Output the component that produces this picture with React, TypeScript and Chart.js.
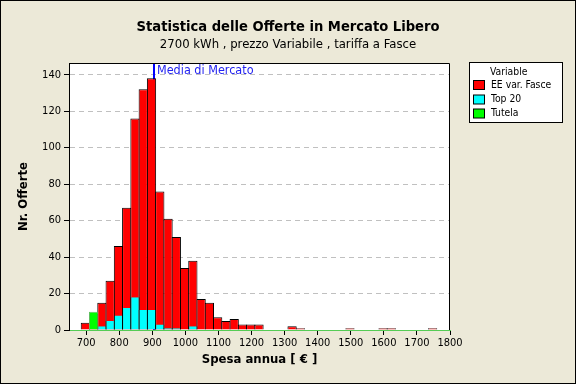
import React, { useEffect, useRef } from 'react';
import { Chart, registerables } from 'chart.js';

Chart.register(...registerables);

const FONT = "'DejaVu Sans Condensed', 'DejaVu Sans', sans-serif";

const titleText = 'Statistica delle Offerte in Mercato Libero';
const subtitleText = '2700 kWh , prezzo Variabile , tariffa a Fasce';
const xAxisTitle = 'Spesa annua [ € ]';
const yAxisTitle = 'Nr. Offerte';
const legendTitle = 'Variable';
const seriesNames = ['EE var. Fasce', 'Top 20', 'Tutela'];
const seriesColors = ['#FF0000', '#00FFFF', '#00FF00'];
const seriesBorders = ['#000000', '#000000', '#5FBF5F'];

const binCenters = [
  697.5, 722.5, 747.5, 772.5, 797.5, 822.5, 847.5, 872.5, 897.5, 922.5,
  947.5, 972.5, 997.5, 1022.5, 1047.5, 1072.5, 1097.5, 1122.5, 1147.5, 1172.5,
  1197.5, 1222.5, 1247.5, 1272.5, 1297.5, 1322.5, 1347.5, 1372.5, 1397.5, 1422.5,
  1447.5, 1472.5, 1497.5, 1522.5, 1547.5, 1572.5, 1597.5, 1622.5, 1647.5, 1672.5,
  1697.5, 1722.5, 1747.5,
];
const eeCounts = [
  4, 9, 15, 27, 46, 67, 116, 132, 138, 76,
  61, 51, 34, 38, 17, 15, 7, 5, 6, 3,
  3, 3, 0, 0, 0, 2, 1, 0, 0, 0,
  0, 0, 1, 0, 0, 0, 1, 1, 0, 0,
  0, 0, 1,
];
const top20Counts = [
  0, 0, 2, 5, 8, 12, 18, 11, 11, 3,
  1, 1, 0, 2, 0, 0, 0, 0, 0, 0,
  0, 0, 0, 0, 0, 0, 0, 0, 0, 0,
  0, 0, 0, 0, 0, 0, 0, 0, 0, 0,
  0, 0, 0,
];
const tutelaCounts = [
  0, 10, 0, 0, 0, 0, 0, 0, 0, 0,
  0, 0, 0, 0, 0, 0, 0, 0, 0, 0,
  0, 0, 0, 0, 0, 0, 0, 0, 0, 0,
  0, 0, 0, 0, 0, 0, 0, 0, 0, 0,
  0, 0, 0,
];
const xTickValues = [700, 800, 900, 1000, 1100, 1200, 1300, 1400, 1500, 1600, 1700, 1800];
const yTickValues = [0, 20, 40, 60, 80, 100, 120, 140];
const marketMean = 905;
const marketMeanLabel = 'Media di Mercato';

const decorPlugin = {
  id: 'decor',
  beforeDraw(chart: any) {
    const { ctx, width, height, chartArea: a } = chart;
    ctx.save();
    ctx.fillStyle = '#ECE9D8';
    ctx.fillRect(0, 0, width, height);
    ctx.strokeStyle = '#000';
    ctx.lineWidth = 1;
    ctx.strokeRect(0.5, 0.5, width - 1, height - 1);
    ctx.fillStyle = '#FFFFFF';
    ctx.fillRect(a.left, a.top, a.right - a.left, a.bottom - a.top);
    ctx.fillStyle = '#000';
    ctx.textAlign = 'center';
    ctx.textBaseline = 'middle';
    ctx.font = `bold 14.6px ${FONT}`;
    ctx.fillText(titleText, width / 2, 27.5);
    ctx.font = `13px ${FONT}`;
    ctx.fillText(subtitleText, width / 2, 44.5);
    ctx.restore();
  },
  beforeDatasetsDraw(chart: any) {
    const { ctx, chartArea: a } = chart;
    const x = chart.scales.x.getPixelForValue(marketMean);
    ctx.save();
    ctx.strokeStyle = '#0000FF';
    ctx.lineWidth = 2;
    ctx.beginPath();
    ctx.moveTo(x, a.top);
    ctx.lineTo(x, a.bottom);
    ctx.stroke();
    ctx.restore();
  },
  afterDatasetsDraw(chart: any) {
    const { ctx, chartArea: a } = chart;
    const x = chart.scales.x.getPixelForValue(marketMean);
    ctx.save();
    ctx.fillStyle = '#2323F0';
    ctx.font = `12.5px ${FONT}`;
    ctx.textAlign = 'left';
    ctx.textBaseline = 'middle';
    ctx.fillText(marketMeanLabel, x + 3, a.top + 8);
    ctx.restore();
  },
  afterDraw(chart: any) {
    const { ctx, chartArea: a } = chart;
    ctx.save();
    ctx.strokeStyle = '#000';
    ctx.lineWidth = 1;
    ctx.beginPath();
    ctx.moveTo(a.left, a.top + 0.5);
    ctx.lineTo(a.right - 0.5, a.top + 0.5);
    ctx.lineTo(a.right - 0.5, a.bottom);
    ctx.stroke();

    // legend
    const lx = 469.5, ly = 62.5, lw = 93, lh = 60;
    ctx.fillStyle = '#FFFFFF';
    ctx.fillRect(lx, ly, lw, lh);
    ctx.strokeRect(lx, ly, lw, lh);
    ctx.fillStyle = '#000';
    ctx.font = `10.3px ${FONT}`;
    ctx.textAlign = 'left';
    ctx.textBaseline = 'middle';
    ctx.fillText(legendTitle, 490, 72);
    const rows = [85, 99.5, 113.5];
    seriesNames.forEach((name, i) => {
      ctx.fillStyle = seriesColors[i];
      ctx.fillRect(473.5, rows[i] - 4.5, 11, 9);
      ctx.strokeStyle = '#000';
      ctx.strokeRect(473.5, rows[i] - 4.5, 11, 9);
      ctx.fillStyle = '#000';
      ctx.fillText(name, 491, rows[i]);
    });
    ctx.restore();
  },
};

export default function App() {
  const canvasRef = useRef<HTMLCanvasElement | null>(null);

  useEffect(() => {
    if (!canvasRef.current) return;
    const makeData = (vals: number[]) =>
      binCenters.map((x, i) => ({ x, y: vals[i] === 0 ? null : vals[i] }));
    const chart = new Chart(canvasRef.current, {
      type: 'bar',
      data: {
        datasets: [
          {
            label: seriesNames[0],
            data: makeData(eeCounts),
            backgroundColor: seriesColors[0],
            borderColor: seriesBorders[0],
            borderWidth: 1,
            order: 3,
          },
          {
            label: seriesNames[1],
            data: makeData(top20Counts),
            backgroundColor: seriesColors[1],
            borderColor: seriesBorders[1],
            borderWidth: { left: 1, right: 1, top: 0, bottom: 0 },
            order: 2,
          },
          {
            label: seriesNames[2],
            data: makeData(tutelaCounts),
            backgroundColor: seriesColors[2],
            borderColor: seriesBorders[2],
            borderWidth: 1,
            order: 1,
          },
        ] as any,
      },
      options: {
        responsive: false,
        animation: false,
        devicePixelRatio: 1,
        layout: { padding: { top: 63, right: 126, left: 0, bottom: 0 } },
        datasets: {
          bar: {
            grouped: false,
            barPercentage: 1.12,
            categoryPercentage: 1,
          },
        },
        plugins: {
          legend: { display: false },
          tooltip: { enabled: false },
          title: { display: false },
        },
        scales: {
          x: {
            type: 'linear',
            min: 648,
            max: 1800,
            offset: false,
            afterBuildTicks: (s: any) => {
              s.ticks = xTickValues.map((v) => ({ value: v }));
            },
            afterFit: (s: any) => {
              s.height = 54;
            },
            grid: {
              offset: false,
              drawOnChartArea: false,
              drawTicks: true,
              tickLength: 5,
              tickColor: '#000',
              tickWidth: 1,
            },
            border: { display: true, color: '#55CC55', width: 1 },
            ticks: {
              autoSkip: false,
              maxRotation: 0,
              padding: 2,
              color: '#000',
              font: { family: FONT, size: 11 },
              callback: (v: any) => String(v),
            },
            title: {
              display: true,
              text: xAxisTitle,
              color: '#000',
              font: { family: FONT, size: 13, weight: 'bold' },
              padding: { top: 0, bottom: 17 },
            },
          },
          y: {
            type: 'linear',
            min: 0,
            max: 146.4,
            afterBuildTicks: (s: any) => {
              s.ticks = yTickValues.map((v) => ({ value: v }));
            },
            afterFit: (s: any) => {
              s.width = 69;
            },
            grid: {
              color: (c: any) => (c.tick && c.tick.value === 0 ? 'rgba(0,0,0,0)' : '#C0C0C0'),
              drawTicks: true,
              tickLength: 5,
              tickColor: '#000',
              tickWidth: 1,
              tickBorderDash: [],
            },
            border: { display: true, color: '#000', width: 1, dash: [5, 4] },
            ticks: {
              autoSkip: false,
              padding: 3,
              color: '#000',
              font: { family: FONT, size: 11 },
              callback: (v: any) => String(v),
            },
            title: {
              display: true,
              text: yAxisTitle,
              color: '#000',
              font: { family: FONT, size: 13, weight: 'bold' },
              padding: { top: 16, bottom: 0 },
            },
          },
        },
      } as any,
      plugins: [decorPlugin],
    });
    return () => chart.destroy();
  }, []);

  return (
    <div style={{ position: 'fixed', left: 0, top: 0, width: 576, height: 384 }}>
      <canvas ref={canvasRef} width={576} height={384} />
    </div>
  );
}
